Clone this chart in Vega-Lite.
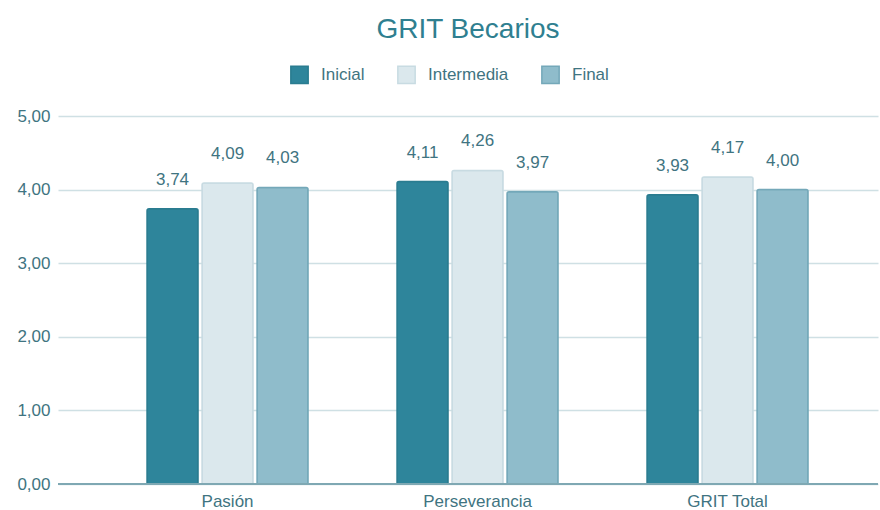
{
  "$schema": "https://vega.github.io/schema/vega-lite/v6.json",
  "width": 820,
  "height": 368,
  "autosize": {"type": "none"},
  "padding": {"left": 58, "top": 116, "right": 2, "bottom": 26},
  "background": "white",
  "config": {
    "locale": {"number": {"decimal": ",", "thousands": ".", "grouping": [3], "currency": ["", " €"]}},
    "view": {"stroke": null},
    "font": "Liberation Sans"
  },
  "title": {"text": "GRIT Becarios", "fontSize": 28, "fontWeight": "normal", "color": "#2f7f90", "anchor": "middle", "offset": 21, "font": "Liberation Sans"},
  "data": {"values": [
    {"dim": "Pasión", "fase": "Inicial", "v": 3.74},
    {"dim": "Pasión", "fase": "Intermedia", "v": 4.09},
    {"dim": "Pasión", "fase": "Final", "v": 4.03},
    {"dim": "Perseverancia", "fase": "Inicial", "v": 4.11},
    {"dim": "Perseverancia", "fase": "Intermedia", "v": 4.26},
    {"dim": "Perseverancia", "fase": "Final", "v": 3.97},
    {"dim": "GRIT Total", "fase": "Inicial", "v": 3.93},
    {"dim": "GRIT Total", "fase": "Intermedia", "v": 4.17},
    {"dim": "GRIT Total", "fase": "Final", "v": 4.00}
  ]},
  "encoding": {
    "x": {"field": "dim", "type": "nominal", "sort": ["Pasión", "Perseverancia", "GRIT Total"],
      "scale": {"paddingInner": 0.356, "paddingOuter": 0.318, "align": 0.56},
      "axis": {"title": null, "labelAngle": 0, "labelFontSize": 17, "labelColor": "#3f7481", "ticks": false, "domain": false, "labelPadding": 9}},
    "xOffset": {"field": "fase", "type": "nominal", "sort": ["Inicial", "Intermedia", "Final"],
      "scale": {"paddingInner": 0.073, "paddingOuter": 0}},
    "y": {"field": "v", "type": "quantitative",
      "scale": {"domain": [0, 5], "nice": false},
      "axis": {"title": null, "values": [0, 1, 2, 3, 4, 5], "format": ".2f", "labelFontSize": 17, "labelColor": "#3f7481", "ticks": false, "domain": false, "gridColor": "#cfe0e4", "gridWidth": 1.5, "labelPadding": 8}}
  },
  "layer": [
    {
      "mark": {"type": "bar", "cornerRadiusTopLeft": 2, "cornerRadiusTopRight": 2, "strokeWidth": 1.5},
      "encoding": {
        "color": {"field": "fase", "type": "nominal", "sort": ["Inicial", "Intermedia", "Final"],
          "scale": {"domain": ["Inicial", "Intermedia", "Final"], "range": ["#2e859b", "#dbe8ed", "#8fbccb"]},
          "legend": {"title": null, "orient": "none", "legendX": 232, "legendY": -51, "direction": "horizontal",
            "symbolType": "square", "symbolSize": 300, "symbolStrokeWidth": 1.5, "labelFontSize": 17, "labelColor": "#3f7481",
            "labelOffset": 12, "columnPadding": 29, "symbolOpacity": 1}},
        "stroke": {"field": "fase", "type": "nominal",
          "scale": {"domain": ["Inicial", "Intermedia", "Final"], "range": ["#2a7c90", "#c8dbe2", "#74a8b9"]},
          "legend": null}
      }
    },
    {
      "mark": {"type": "rule", "color": "#7fa8b3", "strokeWidth": 1.5},
      "encoding": {"y": {"datum": 0}, "x": null, "xOffset": null}
    },
    {
      "mark": {"type": "text", "baseline": "bottom", "dy": -20, "fontSize": 17, "color": "#3f7481"},
      "encoding": {"text": {"field": "v", "type": "quantitative", "format": ".2f"}}
    }
  ]
}
